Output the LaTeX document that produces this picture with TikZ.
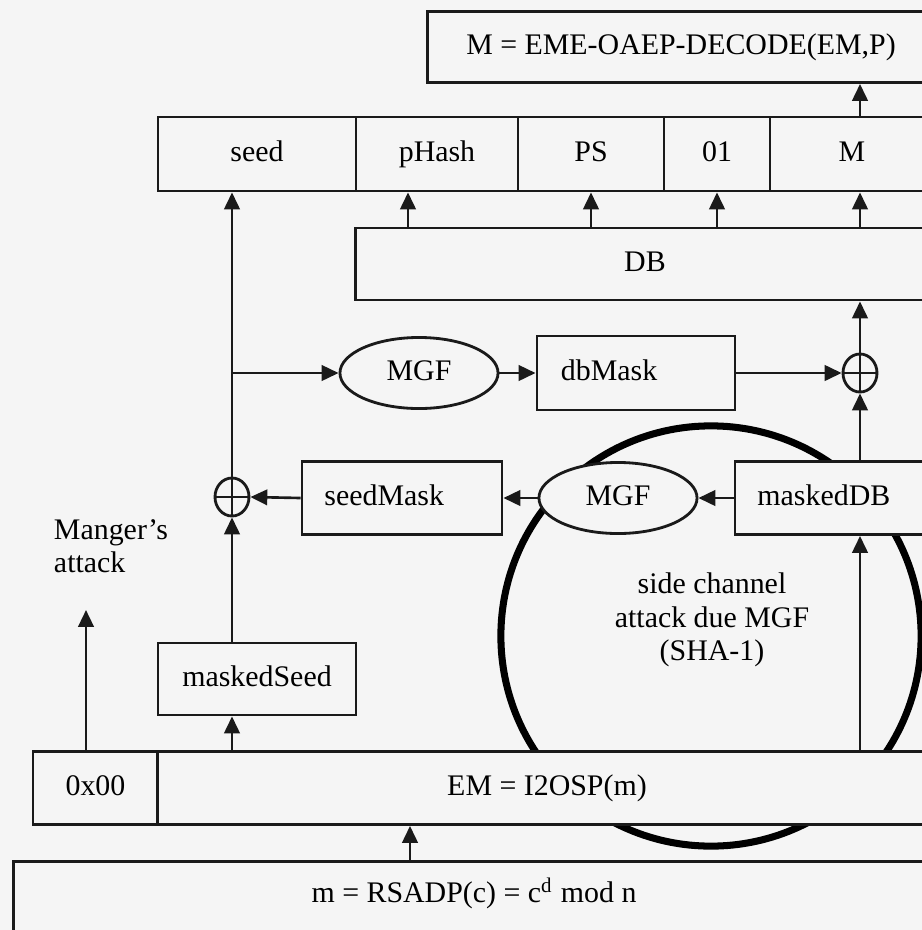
\documentclass[tikz,border=0pt]{standalone}
\usepackage{fontspec}
\setmainfont{Liberation Serif}
\usetikzlibrary{
  arrows.meta,
  shapes.geometric,
  positioning,
  calc
}
\definecolor{oaepPaper}{HTML}{F5F5F5}
\definecolor{oaepInk}{HTML}{1A1A1A}
\tikzset{
  oaepbox/.style={
    draw=oaepInk, fill=oaepPaper, line width=0.8pt, inner sep=0pt,
    font=\fontsize{8.5}{9.5}\selectfont, align=center,
    text height=0.2cm, text depth=0.06cm
  },
  cellrow/.style={oaepbox, minimum height=0.74cm},
  oaepmgf/.style={oaepbox, ellipse, minimum width=1.58cm, minimum height=0.71cm},
  oaepxor/.style={
    draw=oaepInk, fill=oaepPaper, line width=0.8pt, ellipse, inner sep=0pt,
    minimum width=0.34cm, minimum height=0.38cm,
    path picture={\draw[line width=0.6pt]
      (path picture bounding box.north) -- (path picture bounding box.south)
      (path picture bounding box.west) -- (path picture bounding box.east);}
  },
  oaeptext/.style={font=\fontsize{8.5}{9.5}\selectfont, align=center, inner sep=0pt},
  attackring/.style={draw=black, line width=2pt, circle, minimum size=4.2cm},
  oaeparrow/.style={-{Triangle[length=4.8pt, width=4.4pt]}, line width=0.75pt, oaepInk}
}

\begin{document}
\begin{tikzpicture}[x=0.01cm, y=-0.01cm]
  \useasboundingbox (0,0) rectangle (922,930);
  \fill[oaepPaper] (0,0) rectangle (922,930);
  \clip (0,0) rectangle (922,930);
  % attack ring sits behind the boxes
  \node[attackring] (ring) at (711,636) {};
  \node[oaeptext] (sidech) at (712,620) {side channel\\attack due MGF\\(SHA-1)};
  % decoded output and the unpadded blocks
  \node[oaepbox, minimum width=5.06cm, minimum height=0.71cm] (decode) at (681,47) {M = EME-OAEP-DECODE(EM,P)};
  \node[cellrow, minimum width=1.98cm] (seed) at (257,154) {seed};
  \node[cellrow, minimum width=1.62cm] (phash) at (437,154) {pHash};
  \node[cellrow, minimum width=1.46cm] (ps) at (591,154) {PS};
  \node[cellrow, minimum width=1.06cm] (one) at (717,154) {01};
  \node[cellrow, minimum width=1.64cm] (mcell) at (852,154) {M};
  \node[oaepbox, minimum width=5.78cm, minimum height=0.72cm] (db) at (645,264) {DB};
  % mask generation
  \node[oaepxor] (xora) at (860,373) {};
  \node[oaepmgf] (mgfa) at (419,373) {MGF};
  \node[oaepbox, minimum width=1.98cm, minimum height=0.74cm, text width=1.5cm, align=left] (dbmask) at (636,373) {dbMask};
  \node[oaepbox, minimum width=2.0cm, minimum height=0.73cm, text width=1.55cm, align=left] (maskeddb) at (835,498) {maskedDB};
  \node[oaepmgf] (mgfb) at (618,498) {MGF};
  \node[oaepbox, minimum width=2.0cm, minimum height=0.73cm, text width=1.55cm, align=left] (seedmask) at (402,498) {seedMask};
  \node[oaepxor] (xorb) at (232,497) {};
  \node[oaepbox, minimum width=1.98cm, minimum height=0.72cm] (mseed) at (257,679) {maskedSeed};
  % encoded message and RSA decryption
  \node[cellrow, minimum width=1.25cm, minimum height=0.73cm] (zero) at (95.5,788) {0x00};
  \node[cellrow, minimum width=7.78cm, minimum height=0.73cm] (em) at (547,788) {EM = I2OSP(m)};
  \node[oaepbox, anchor=north west, minimum width=9.4cm, minimum height=0.9cm] (rsadp) at (12,860) {};
  \node[oaeptext] (rsadptext) at (474,893) {m = RSADP(c) = c\textsuperscript{d} mod n};
  \node[oaeptext, align=left] (manger) at (111,546) {Manger's\\attack};
  \coordinate (mangertip) at (86,610);
  \coordinate (rsadpout) at (410,860);
  % connectors
  \draw[oaeparrow] (rsadpout) -- (rsadpout |- em.south);
  \draw[oaeparrow] (mangertip |- zero.north) -- (mangertip);
  \draw[oaeparrow] (em.north -| xorb) -- (mseed.south -| xorb);
  \draw[oaeparrow] (mseed.north -| xorb) -- (xorb.south);
  \draw[oaeparrow] (xorb.north) -- (xorb |- seed.south);
  \draw[oaeparrow] (xorb |- mgfa) -- (mgfa.west);
  \draw[oaeparrow] (mgfa.east) -- (dbmask.west);
  \draw[oaeparrow] (dbmask.east) -- (xora.west);
  \draw[oaeparrow] (em.north -| xora) -- (maskeddb.south -| xora);
  \draw[oaeparrow] (maskeddb.north -| xora) -- (xora.south);
  \draw[oaeparrow] (maskeddb.west) -- (mgfb.east);
  \draw[oaeparrow] (mgfb.west) -- (seedmask.east);
  \draw[oaeparrow] (seedmask.west) -- (xorb.east);
  \draw[oaeparrow] (xora.north) -- (xora |- db.south);
  \draw[oaeparrow] ($(phash.south |- db.north)+(-29,0)$) -- ($(phash.south)+(-29,0)$);
  \draw[oaeparrow] (ps.south |- db.north) -- (ps.south);
  \draw[oaeparrow] (one.south |- db.north) -- (one.south);
  \draw[oaeparrow] (xora |- db.north) -- (xora |- mcell.south);
  \draw[oaeparrow] (xora |- mcell.north) -- (xora |- decode.south);
\end{tikzpicture}
\end{document}
